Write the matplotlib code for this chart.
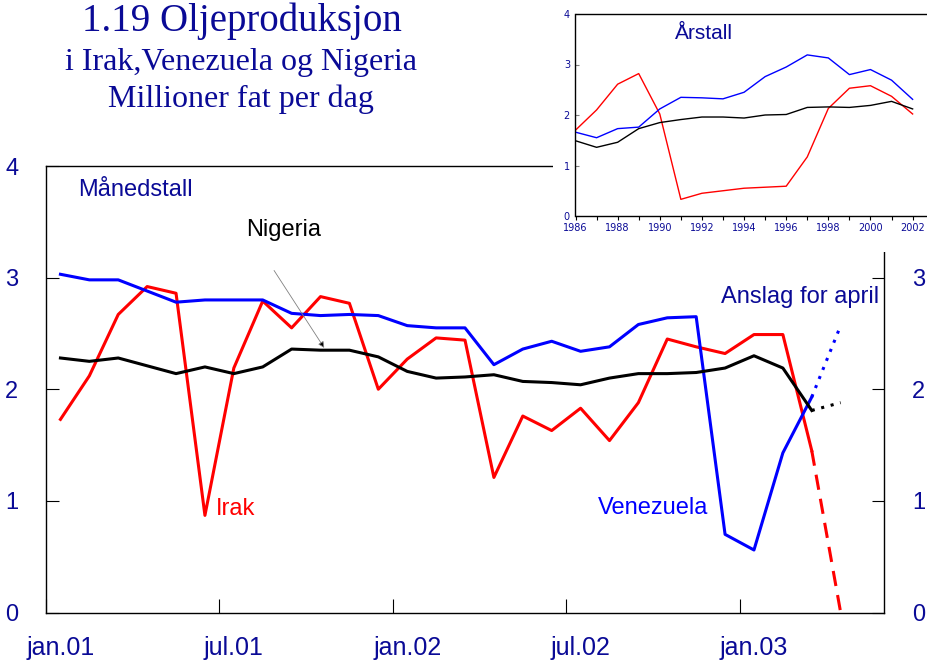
import matplotlib
matplotlib.use('Agg')
import matplotlib.pyplot as plt
from matplotlib.ticker import MultipleLocator

# Monthly data, jan.01 - mar.03 (index 0..26), april estimate at index 27
irak = [1.73, 2.12, 2.67, 2.92, 2.86, 0.87, 2.19, 2.79, 2.55, 2.83, 2.77, 2.00,
        2.27, 2.46, 2.44, 1.21, 1.76, 1.63, 1.83, 1.54, 1.88, 2.45, 2.38, 2.32,
        2.49, 2.49, 1.45]
venezuela = [3.03, 2.98, 2.98, 2.88, 2.78, 2.80, 2.80, 2.80, 2.68, 2.66, 2.67, 2.66,
             2.57, 2.55, 2.55, 2.22, 2.36, 2.43, 2.34, 2.38, 2.58, 2.64, 2.65, 0.70,
             0.56, 1.43, 1.93]
nigeria = [2.28, 2.25, 2.28, 2.21, 2.14, 2.20, 2.14, 2.20, 2.36, 2.35, 2.35, 2.29,
           2.16, 2.10, 2.11, 2.13, 2.07, 2.06, 2.04, 2.10, 2.14, 2.14, 2.15, 2.19,
           2.30, 2.19, 1.81]
april_irak = 0.0
april_venezuela = 2.57
april_nigeria = 1.88
month_labels = ['jan.01', 'jul.01', 'jan.02', 'jul.02', 'jan.03']

# Yearly data 1986-2002
years = list(range(1986, 2003))
irak_yr = [1.70, 2.10, 2.61, 2.82, 2.02, 0.33, 0.45, 0.50, 0.55, 0.57, 0.59, 1.17,
           2.13, 2.53, 2.58, 2.37, 2.02]
venezuela_yr = [1.66, 1.55, 1.73, 1.76, 2.12, 2.35, 2.34, 2.32, 2.45, 2.76, 2.95,
                3.19, 3.13, 2.80, 2.90, 2.69, 2.31]
nigeria_yr = [1.49, 1.36, 1.46, 1.73, 1.85, 1.91, 1.96, 1.96, 1.94, 2.00, 2.01,
              2.15, 2.16, 2.15, 2.19, 2.27, 2.12]

navy = '#0a0a96'
red = '#ff0000'
blue = '#0000ff'

fig = plt.figure(figsize=(9.28, 6.66), dpi=100)
W, H = 928, 666

def box(x0, y0, x1, y1):
    return [x0 / W, 1 - y1 / H, (x1 - x0) / W, (y1 - y0) / H]

# Main chart
ax = fig.add_axes(box(46, 166, 884, 612.5), zorder=1)
n = len(irak)
x = list(range(n))
ax.plot(x, irak, color=red, lw=2.2)
ax.plot(x, venezuela, color=blue, lw=2.2)
ax.plot(x, nigeria, color='black', lw=2.2)
ax.plot([n - 1, n], [irak[-1], april_irak], color=red, lw=2.2, ls=(0, (5, 3)))
ax.plot([n - 1, n], [venezuela[-1], april_venezuela], color=blue, lw=2.2, ls=(0, (1, 2.2)))
ax.plot([n - 1, n], [nigeria[-1], april_nigeria], color='black', lw=2.2, ls=(0, (1, 2.2)))

ax.set_xlim(-0.5, 28.5)
ax.set_ylim(0, 4)
ax.set_yticks([0, 1, 2, 3, 4])
ax.set_xticks([-0.5, 5.5, 11.5, 17.5, 23.5])
ax.set_xticklabels([])
ax.set_xticks([0, 6, 12, 18, 24], minor=True)
ax.set_xticklabels(month_labels, minor=True, color=navy, fontsize=18,
                   family=['Liberation Sans Narrow', 'Liberation Sans'])
ax.tick_params(axis='x', which='major', direction='in', length=10, width=0.8)
ax.tick_params(axis='x', which='minor', length=0, pad=17)
ax.tick_params(axis='y', direction='in', length=9, width=0.8, right=True,
               labelright=True, labelsize=17, labelcolor=navy, pad=20)
for lab in ax.get_yticklabels():
    lab.set_family('Liberation Sans')
for s in ax.spines.values():
    s.set_linewidth(1.0)

ax.text(0.62, 3.785, 'Månedstall', color=navy, fontsize=17, va='center',
        family='Liberation Sans')
ax.text(6.41, 3.43, 'Nigeria', color='black', fontsize=17, va='center',
        family='Liberation Sans')
ax.text(5.37, 0.93, 'Irak', color=red, fontsize=17, va='center',
        family='Liberation Sans')
ax.text(18.6, 0.94, 'Venezuela', color=blue, fontsize=17, va='center',
        family='Liberation Sans')
ax.text(22.86, 2.825, 'Anslag for april', color=navy, fontsize=17, va='center',
        family='Liberation Sans')
ax.annotate('', xy=(9.18, 2.35), xytext=(7.34, 3.085),
            arrowprops=dict(arrowstyle='-|>', color='gray', lw=0.6,
                            mutation_scale=9, fc='black'))

# White cover for the top-right corner
cover = fig.add_axes(box(553, 0, 928, 252), zorder=2)
cover.set_facecolor('white')
cover.set_xticks([])
cover.set_yticks([])
for s in cover.spines.values():
    s.set_visible(False)

# Inset with yearly data
ins = fig.add_axes(box(575.5, 14, 928, 216), zorder=3)
ins.plot(years, irak_yr, color=red, lw=1.0)
ins.plot(years, venezuela_yr, color=blue, lw=1.0)
ins.plot(years, nigeria_yr, color='black', lw=1.0)
ins.set_xlim(1986, 2002.73)
ins.set_ylim(0, 4)
ins.set_yticks([0, 1, 2, 3, 4])
ins.xaxis.set_major_locator(MultipleLocator(2))
ins.xaxis.set_minor_locator(MultipleLocator(1))
ins.tick_params(axis='x', which='both', direction='out', length=3, width=0.8,
                labelsize=7, labelcolor=navy, pad=2)
ins.tick_params(axis='y', direction='in', length=3, width=0.8, color='gray',
                labelsize=7, labelcolor=navy, pad=4)
ins.spines['right'].set_visible(False)
for s in ['left', 'bottom', 'top']:
    ins.spines[s].set_linewidth(1.0)
ins.text(1990.72, 3.62, 'Årstall', color=navy, fontsize=15, va='center',
         family='Liberation Sans')

# Title
fig.text(242 / W, 1 - 31 / H, '1.19 Oljeproduksjon', ha='center', va='baseline',
         fontsize=28, color=navy, family='Liberation Serif')
fig.text(241 / W, 1 - 70 / H, 'i Irak,Venezuela og Nigeria', ha='center',
         va='baseline', fontsize=23, color=navy, family='Liberation Serif')
fig.text(241 / W, 1 - 107 / H, 'Millioner fat per dag', ha='center',
         va='baseline', fontsize=23, color=navy, family='Liberation Serif')

fig.savefig('out.png', dpi=100)
